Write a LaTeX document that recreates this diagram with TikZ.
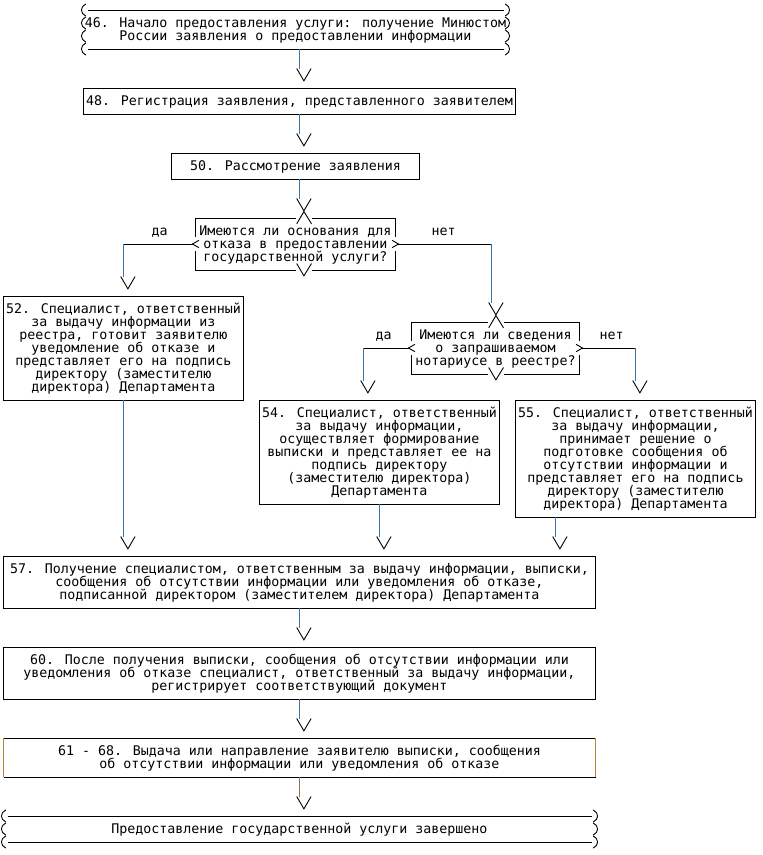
\documentclass[tikz,border=0pt]{standalone}
\usepackage{fontspec}
\newfontfamily\flowmono{DejaVu Sans Mono}
\usetikzlibrary{calc}
\definecolor{vblue}{RGB}{58,118,170}
\definecolor{ochre}{RGB}{190,135,50}
\definecolor{olivec}{RGB}{140,118,72}
\newcommand\TL[1]{\rule[-2pt]{0pt}{13pt}\smash{#1}}
\tikzset{
  boxfont/.style={font=\flowmono\fontsize{13.29pt}{13pt}\selectfont},
  txt/.style={boxfont, align=center, inner sep=0pt, outer sep=0pt},
  framed/.style={txt, draw=black, line width=0.9pt},
  vconn/.style={draw=vblue, line width=1.1pt},
  hconn/.style={draw=black, line width=0.9pt, line cap=rect},
  glyph/.style={draw=black, line width=0.9pt},
  vhead/.pic={\draw[glyph] (-0.35,-1.5) -- (0.55,-0.55) -- (1.45,-1.5);},
  lparen/.pic={\draw[glyph] (0.3,-0.47) .. controls (-0.45,-0.25) and (-0.45,0.25) .. (0.3,0.47);},
  rparen/.pic={\draw[glyph] (-0.3,-0.47) .. controls (0.45,-0.25) and (0.45,0.25) .. (-0.3,0.47);},
}
\begin{document}
\begin{tikzpicture}[x=8pt,y=-13pt]
\useasboundingbox (-0.4375,-0.76923) rectangle (94.9375,65);
\foreach \c in {15,37,45,47,61,69,79} \coordinate (x\c) at (\c,0);

% ---------- nodes ----------
\node[txt, minimum width=424pt, minimum height=39pt] (t46) at (36.5,1.5)
  {\TL{46. Начало предоставления услуги: получение Минюстом}\\\TL{России заявления о предоставлении информации}};
\node[framed, minimum width=432pt, minimum height=26pt] (b48) at (37,7)
  {\TL{48. Регистрация заявления, представленного заявителем}};
\node[framed, minimum width=248pt, minimum height=26pt] (b50) at (36.5,12)
  {\TL{50. Рассмотрение заявления}};
\node[txt, minimum width=200pt, minimum height=52pt] (d1) at (36.5,18)
  {\TL{Имеются ли основания для}\\\TL{отказа в предоставлении}\\\TL{государственной услуги?}};
\node[framed, minimum width=240pt, minimum height=104pt] (b52) at (15,26)
  {\TL{52. Специалист, ответственный}\\\TL{за выдачу информации из}\\\TL{реестра, готовит заявителю}\\\TL{уведомление об отказе и}\\\TL{представляет его на подпись}\\\TL{директору (заместителю}\\\TL{директора) Департамента}};
\node[txt, minimum width=168pt, minimum height=52pt] (d2) at (61.5,26)
  {\TL{Имеются ли сведения}\\\TL{о запрашиваемом}\\\TL{нотариусе в реестре?}};
\node[framed, minimum width=240pt, minimum height=104pt] (b54) at (47,34)
  {\TL{54. Специалист, ответственный}\\\TL{за выдачу информации,}\\\TL{осуществляет формирование}\\\TL{выписки и представляет ее на}\\\TL{подпись директору}\\\TL{(заместителю директора)}\\\TL{Департамента}};
\node[framed, minimum width=240pt, minimum height=117pt] (b55) at (79,34.5)
  {\TL{55. Специалист, ответственный}\\\TL{за выдачу информации,}\\\TL{принимает решение о}\\\TL{подготовке сообщения об}\\\TL{отсутствии информации и}\\\TL{представляет его на подпись}\\\TL{директору (заместителю}\\\TL{директора) Департамента}};
\node[framed, minimum width=592pt, minimum height=52pt] (b57) at (37,44)
  {\TL{57. Получение специалистом, ответственным за выдачу информации, выписки,}\\\TL{сообщения об отсутствии информации или уведомления об отказе,}\\\TL{подписанной директором (заместителем директора) Департамента}};
\node[framed, minimum width=592pt, minimum height=52pt] (b60) at (37,51)
  {\TL{60. После получения выписки, сообщения об отсутствии информации или}\\\TL{уведомления об отказе специалист, ответственный за выдачу информации,}\\\TL{регистрирует соответствующий документ}};
\node[txt, minimum width=592pt, minimum height=39pt] (b61) at (37,57.5)
  {\TL{61 - 68. Выдача или направление заявителю выписки, сообщения}\\\TL{об отсутствии информации или уведомления об отказе}};
\node[txt, minimum width=592pt, minimum height=26pt] (tend) at (37,63)
  {\TL{Предоставление государственной услуги завершено}};

% labels
\node[txt] (yes1) at (19.5,17) {\TL{да}};
\node[txt] (no1) at (55,17) {\TL{нет}};
\node[txt] (yes2) at (47.5,25) {\TL{да}};
\node[txt] (no2) at (76,25) {\TL{нет}};

% ---------- terminators ----------
\foreach \r in {0,1,2,3} { \pic at (10,\r) {lparen}; \pic at (63,\r) {rparen}; }
\draw[glyph] (10.5,0) -- (62.5,0);
\draw[glyph] (10.5,3) -- (62.5,3);
\foreach \r in {62,63,64} { \pic at (0,\r) {lparen}; \pic at (74,\r) {rparen}; }
\draw[glyph] (0.5,62) -- (73.5,62);
\draw[glyph] (0.5,64) -- (73.5,64);

% ---------- decision 1 ----------
\draw[glyph] (24,17.45) -- (24,16) -- (36.5,16);
\draw[glyph] (38.5,16) -- (49,16) -- (49,17.45);
\draw[glyph] (24,18.55) -- (24,20) -- (36.5,20);
\draw[glyph] (38.5,20) -- (49,20) -- (49,18.55);
\draw[glyph] (36.65,16.45) -- (37.55,15.5) -- (38.5,16.45);
\draw[glyph] (36.65,19.5) -- (37.55,20.45) -- (38.5,19.5);
\draw[glyph] (24.42,17.72) -- (23.62,18) -- (24.42,18.28);
\draw[glyph] (48.58,17.72) -- (49.38,18) -- (48.58,18.28);

% ---------- decision 2 ----------
\draw[glyph] (51,25.45) -- (51,24) -- (60.5,24);
\draw[glyph] (62.5,24) -- (72,24) -- (72,25.45);
\draw[glyph] (51,26.55) -- (51,28) -- (60.5,28);
\draw[glyph] (62.5,28) -- (72,28) -- (72,26.55);
\draw[glyph] (60.65,24.45) -- (61.55,23.5) -- (62.5,24.45);
\draw[glyph] (60.65,27.5) -- (61.55,28.45) -- (62.5,27.5);
\draw[glyph] (51.42,25.72) -- (50.62,26) -- (51.42,26.28);
\draw[glyph] (71.58,25.72) -- (72.38,26) -- (71.58,26.28);

% ---------- box 61-68 frame ----------
\draw[glyph] (b61.north west) -- (b61.north east);
\draw[glyph] (b61.south west) -- (b61.south east);
\draw[glyph, draw=ochre, line width=1.1pt] (b61.north west) -- (b61.south west);
\draw[glyph, draw=ochre, line width=1.1pt] (b61.north east) -- (b61.south east);

% ---------- connectors ----------
\draw[vconn] (t46.south -| x37) -- ($(b48.north -| x37)+(0,-1.5)$);
\pic at (b48.north -| x37) {vhead};
\draw[vconn] (b48.south -| x37) -- ($(b50.north -| x37)+(0,-1.5)$);
\pic at (b50.north -| x37) {vhead};
\draw[vconn] (b50.south -| x37) -- ($(d1.north -| x37)+(0,-1.5)$);
\pic at (d1.north -| x37) {vhead};

\coordinate (k1) at (d1.west -| x15);
\draw[hconn] ([xshift=-3.04pt]d1.west) -- (k1);
\draw[vconn] (k1) -- ($(b52.north -| x15)+(0,-1.5)$);
\pic at (b52.north -| x15) {vhead};

\coordinate (k2) at (d1.east -| x61);
\draw[hconn] ([xshift=3.04pt]d1.east) -- (k2);
\draw[vconn] (k2) -- ($(d2.north -| x61)+(0,-1.5)$);
\pic at (d2.north -| x61) {vhead};

\coordinate (k3) at (d2.west -| x45);
\draw[hconn] ([xshift=-3.04pt]d2.west) -- (k3);
\draw[vconn] (k3) -- ($(b54.north -| x45)+(0,-1.5)$);
\pic at (b54.north -| x45) {vhead};

\coordinate (k4) at (d2.east -| x79);
\draw[hconn] ([xshift=3.04pt]d2.east) -- (k4);
\draw[vconn] (k4) -- ($(b55.north -| x79)+(0,-1.5)$);
\pic at (b55.north -| x79) {vhead};

\draw[vconn] (b52.south -| x15) -- ($(b57.north -| x15)+(0,-1.5)$);
\pic at (b57.north -| x15) {vhead};
\draw[vconn] (b54.south -| x47) -- ($(b57.north -| x47)+(0,-1.5)$);
\pic at (b57.north -| x47) {vhead};
\draw[vconn] (b55.south -| x69) -- ($(b57.north -| x69)+(0,-1.5)$);
\pic at (b57.north -| x69) {vhead};

\draw[vconn] (b57.south -| x37) -- ($(b60.north -| x37)+(0,-1.5)$);
\pic at (b60.north -| x37) {vhead};
\draw[vconn] (b60.south -| x37) -- ($(b61.north -| x37)+(0,-1.5)$);
\pic at (b61.north -| x37) {vhead};
\draw[vconn, draw=olivec] (b61.south -| x37) -- ($(tend.north -| x37)+(0,-1.5)$);
\pic at (tend.north -| x37) {vhead};
\end{tikzpicture}
\end{document}
